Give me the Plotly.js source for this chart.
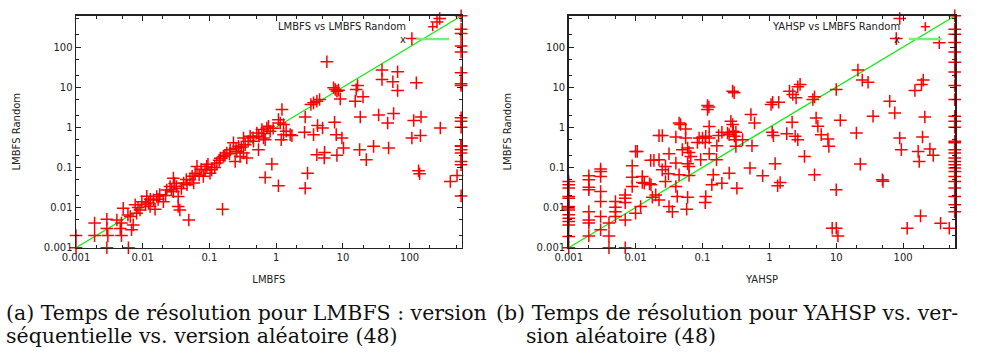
<!DOCTYPE html>
<html>
<head>
<meta charset="utf-8">
<script src="https://cdn.plot.ly/plotly-3.0.1.min.js"></script>
<style>html,body{margin:0;padding:0;background:#fff;}#chart{width:987px;height:355px;}</style>
</head>
<body>
<div id="chart"></div>
<script>
// ---- Data ----
const tickVals = [0.001, 0.01, 0.1, 1, 10, 100];
const tickText = ["0.001", "0.01", "0.1", "1", "10", "100"];
const diagX = [0.001, 600];
const diagY = [0.001, 600];

// (a) LMBFS (x) vs LMBFS Random (y)
const lmbfsX = [
0.001,0.001,0.0019,0.0019,0.0029,0.0029,0.003,0.0029,0.0041,0.0048,0.0048,0.0046,0.0051,0.0061,0.0065,0.0068,0.0072,0.0081,0.0077,0.0091,
0.0097,0.0115,0.0122,0.0129,0.0145,0.0153,0.0162,0.018,0.0204,0.0229,0.0257,0.0288,0.0288,0.032,0.034,0.034,0.036,0.041,0.046,0.051,
0.058,0.061,0.065,0.081,0.086,0.091,0.102,0.108,0.129,0.145,0.162,0.182,0.204,0.229,0.243,0.257,0.272,0.288,0.324,0.324,
0.343,0.363,0.407,0.513,0.543,0.61,0.684,0.724,0.767,0.813,1.08,1.15,1.22,1.29,1.41,1.62,0.457,0.646,1.19,1.29,1.72,
0.006,0.0085,0.011,0.013,0.017,0.022,0.027,0.03,0.038,0.045,0.055,0.07,0.075,0.095,0.12,0.14,0.17,0.2,0.25,0.3,0.38,0.45,0.55,0.65,0.9,
2.72,3.31,3.63,4.07,4.47,7.24,7.67,8.13,8.6,9.12,5.75,16.6,15.8,20,15.3,38.5,66,38.5,56,66,126,18.2,34.3,57.5,46.8,115,148,
7.5,4.17,4.95,2.66,3.63,7.94,9.66,108,145,28.8,48.4,17.8,10.2,4.07,5.31,5.25,8.13,22.4,0.861,2.95,0.684,1.08,2.72,136,141,
0.157,0.049,407,513,288,257,282,108,
590,590,590,590,590,590,590,590,590,590,590,590,590,590,590,590,590,590
];
const lmbfsRandomY = [
0.002,0.001,0.0041,0.002,0.0051,0.003,0.002,0.001,0.0049,0.0041,0.002,0.003,0.0096,0.001,0.006,0.0028,0.0037,0.0072,0.0117,0.0087,
0.014,0.019,0.0129,0.0106,0.0155,0.0091,0.0188,0.021,0.014,0.0275,0.0335,0.054,0.025,0.0335,0.0188,0.0106,0.0087,0.041,0.037,0.049,
0.041,0.072,0.106,0.06,0.087,0.106,0.072,0.087,0.129,0.17,0.188,0.229,0.275,0.41,0.141,0.251,0.335,0.188,0.229,0.54,
0.369,0.171,0.596,0.72,0.277,0.875,0.492,0.962,1.06,0.794,1.55,1.28,2.77,1.17,0.794,0.656,0.447,0.541,0.492,0.656,0.62,
0.0065,0.01,0.012,0.016,0.016,0.02,0.028,0.04,0.03,0.05,0.06,0.065,0.09,0.12,0.1,0.15,0.2,0.22,0.3,0.32,0.45,0.55,0.6,0.7,0.95,
1.81,3.69,4.06,4.47,4.92,9.62,8.74,7.94,8.41,5.1,43,11,8.74,5.73,4.47,26.6,24.2,15.6,13.6,8.26,12.8,1.81,2.03,2.2,1.28,1.47,1.81,
1.33,1.1,0.962,0.75,0.656,0.656,0.541,0.541,0.62,0.335,0.304,0.277,0.304,0.207,0.237,0.171,0.2,0.156,0.121,0.072,0.056,0.0348,0.0304,0.0826,0.0695,
0.0091,0.0049,0.0447,0.063,0.962,422,511,162,
600,275,216,106,75,22.9,12.2,11,1.72,1.41,1.0,0.347,0.335,0.275,0.229,0.141,0.117,0.0195
];

// (b) YAHSP (x) vs LMBFS Random (y)
const yahspX = [
0.001,0.001,0.001,0.001,0.001,0.001,0.001,0.001,0.001,0.001,0.001,0.001,0.001,0.001,
590,590,590,590,590,590,590,590,590,590,590,590,590,590,590,590,590,590,590,590,590,590,590,590,590,590,590,
89,79,347,21.1,24.5,29.9,200,188,150,63,75,35.5,211,10,4.73,4.47,2.88,2.66,2.24,2.51,2.0,1.06,1.12,1.38,0.53,0.6,0.282,0.298,0.119,0.125,0.119,
5.0,5.31,5.96,7.5,7.76,11.5,20,89,195,94,168,251,282,174,2.19,1.82,2.43,2.66,1.1,1.15,3.35,22.9,4.73,49,50,10,1.22,1.45,1.33,0.794,0.513,0.55,
0.316,0.316,0.327,0.251,0.195,0.138,0.145,10,8.7,10.6,115,182,363,490,
0.002,0.002,0.002,0.002,0.002,0.002,0.002,0.002,
0.003,0.003,0.003,0.003,0.003,0.003,0.003,
0.004,0.004,0.004,0.005,0.005,0.005,0.005,0.007,0.007,0.007,0.007,0.007,
0.0089,0.0089,0.0089,0.01,0.0106,0.01,0.0119,0.0126,0.0126,0.0135,0.0168,0.0188,0.0224,0.0162,0.017,0.0178,0.0224,0.02,0.0224,0.0251,
0.025,0.028,0.031,0.0316,0.028,0.0316,0.0355,0.04,0.04,0.04,0.042,0.0447,0.047,0.0447,0.056,0.056,
0.05,0.06,0.063,0.067,0.06,0.063,0.063,0.06,0.058,0.084,0.089,0.1,0.112,0.126,0.094,0.11,0.126,0.126,0.112,0.11,
0.164,0.174,0.162,0.195,0.237,0.251,0.266,0.282,0.288,0.3,0.316,0.398
];
const yahspRandomY = [
0.037,0.0447,0.0305,0.0188,0.017,0.0106,0.0097,0.0087,0.0066,0.0054,0.0045,0.0037,0.0019,0.001,
600,275,209,129,75,42,23.7,11,4.9,1.88,1.41,1.0,0.41,0.447,0.275,0.229,0.172,0.141,0.117,0.097,0.079,0.0596,0.0447,0.0305,0.0188,0.0117,0.0079,
511,162,128,26.6,15,13.3,15,11.7,8.26,4.47,2.28,1.88,1.81,8.74,5.73,4.92,11.7,10.2,6.56,5.41,7.94,3.69,4.22,4.22,2.07,1.28,7.94,7.3,3.48,3.2,2.77,
1.71,1.06,0.656,0.51,0.335,1.5,0.72,0.541,0.573,0.277,0.251,0.287,0.2,0.141,1.33,0.695,0.596,0.492,0.75,0.62,0.188,0.121,0.0656,0.0492,0.045,0.0277,0.124,0.0422,0.0348,0.062,0.0962,0.348,
0.75,0.492,0.0304,0.072,0.0405,0.0369,0.0656,0.00304,0.00304,0.00196,0.00304,0.0062,0.00406,0.00304,
0.062,0.049,0.0322,0.0277,0.0079,0.0049,0.0041,0.00196,
0.091,0.079,0.0596,0.0251,0.0141,0.006,0.0028,
0.0041,0.00196,0.001,0.0141,0.0102,0.0079,0.006,0.0207,0.0171,0.0133,0.0049,0.001,
0.11,0.057,0.0335,0.251,0.251,0.0072,0.0106,0.0596,0.0422,0.0405,0.15,0.15,0.156,0.039,0.037,0.0181,0.0155,0.0207,0.62,0.62,
0.087,0.106,0.0695,0.22,0.0447,0.0106,0.0079,0.573,0.128,0.0335,0.0188,1.28,1.17,0.0656,0.908,0.541,
0.277,0.304,0.237,0.188,0.124,0.106,0.063,0.0181,0.0091,0.42,0.54,0.54,0.6,0.54,0.156,0.42,0.22,1.04,0.0188,0.0133,
0.348,0.62,0.156,0.75,0.72,0.656,1.41,1.17,0.794,0.6,0.335,0.492
];

// ---- Styles ----
const RED = "#ff0000";
const GREEN = "#00ee00";
const tickFont = {family: "DejaVu Sans", size: 10, color: "#222"};
const capFont = {family: "DejaVu Serif", size: 20.5, color: "#111"};

function axis(domain, anchor, titleText, standoff) {
  return {
    domain: domain, anchor: anchor, type: "log", range: [-3, 2.78],
    tickvals: tickVals, ticktext: tickText,
    ticks: "inside", ticklen: 5, tickwidth: 1, tickcolor: "#222",
    showline: true, linecolor: "#222", linewidth: 1.5, mirror: "ticks",
    showgrid: false, zeroline: false, tickfont: tickFont,
    minor: {dtick: "D2", ticks: "inside", ticklen: 3, tickwidth: 1, tickcolor: "#222", showgrid: false},
    title: {text: titleText, font: {family: "DejaVu Sans", size: 10, color: "#222"}, standoff: standoff},
    automargin: false, fixedrange: true
  };
}

const markerStyle = {symbol: "cross-thin", size: 9, color: RED, line: {color: RED, width: 1.5}};

const traces = [
  {x: diagX, y: diagY, xaxis: "x", yaxis: "y", mode: "lines", line: {color: GREEN, width: 1.2}, showlegend: false, hoverinfo: "skip"},
  {x: lmbfsX, y: lmbfsRandomY, xaxis: "x", yaxis: "y", mode: "markers", marker: markerStyle, cliponaxis: false, showlegend: false},
  {x: diagX, y: diagY, xaxis: "x2", yaxis: "y2", mode: "lines", line: {color: GREEN, width: 1.2}, showlegend: false, hoverinfo: "skip"},
  {x: yahspX, y: yahspRandomY, xaxis: "x2", yaxis: "y2", mode: "markers", marker: markerStyle, cliponaxis: false, showlegend: false}
];

const W = 987, H = 355;
const px = v => v / W;
const py = v => 1 - v / H;

function keyShapes(sampleCx) {
  return [
    {type: "line", xref: "paper", yref: "paper", x0: px(sampleCx - 4.5), x1: px(sampleCx + 4.5), y0: py(26.7), y1: py(26.7), line: {color: RED, width: 1.5}},
    {type: "line", xref: "paper", yref: "paper", x0: px(sampleCx), x1: px(sampleCx), y0: py(22.2), y1: py(31.2), line: {color: RED, width: 1.5}},
    {type: "line", xref: "paper", yref: "paper", x0: px(sampleCx - 16.5), x1: px(sampleCx + 16.5), y0: py(39), y1: py(39), line: {color: "#77ee77", width: 2.5}}
  ];
}

function keyText(rightEdge, title) {
  return [
    {xref: "paper", yref: "paper", x: px(rightEdge), y: py(26.7), xanchor: "right", yanchor: "middle", text: title, showarrow: false, font: {family: "DejaVu Sans", size: 10, color: "#222"}},
    {xref: "paper", yref: "paper", x: px(rightEdge), y: py(39.3), xanchor: "right", yanchor: "middle", text: "x", showarrow: false, font: {family: "DejaVu Sans", size: 10, color: "#222"}}
  ];
}

function caption(x, y, text) {
  return {xref: "paper", yref: "paper", x: px(x), y: py(y), xanchor: "left", yanchor: "middle", text: text, showarrow: false, font: capFont};
}

const yDom = [py(247.7), py(15.7)];
const layout = {
  width: W, height: H,
  margin: {l: 0, r: 0, t: 0, b: 0},
  paper_bgcolor: "#fff", plot_bgcolor: "#fff",
  showlegend: false,
  xaxis: axis([px(76), px(461.7)], "y", "LMBFS", 14),
  yaxis: axis(yDom, "x", "LMBFS Random", 21),
  xaxis2: axis([px(568.7), px(955.3)], "y2", "YAHSP", 14),
  yaxis2: axis(yDom, "x2", "LMBFS Random", 23),
  shapes: keyShapes(432.7).concat(keyShapes(925.3)),
  annotations: keyText(408.3, "LMBFS vs LMBFS Random")
    .concat(keyText(902, "YAHSP vs LMBFS Random"))
    .concat([
      caption(4, 313, "(a) Temps de résolution pour LMBFS : version"),
      caption(4, 336, "séquentielle vs. version aléatoire (48)"),
      caption(494, 313, "(b) Temps de résolution pour YAHSP vs. ver-"),
      caption(524, 336, "sion aléatoire (48)")
    ])
};

Plotly.newPlot("chart", traces, layout, {staticPlot: true, displayModeBar: false});
</script>
</body>
</html>
